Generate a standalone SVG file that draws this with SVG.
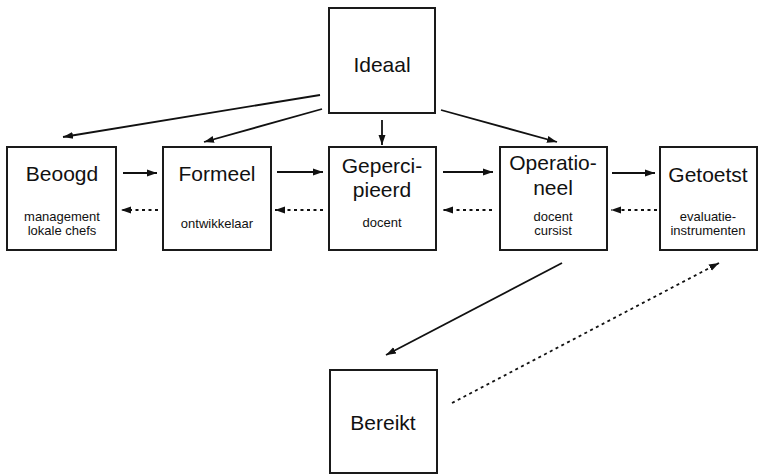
<svg xmlns="http://www.w3.org/2000/svg" width="759" height="475" viewBox="0 0 759 475">
<style>
.box{fill:#fff;stroke:#1a1a1a;stroke-width:2}
.t{font-family:"Liberation Sans",Arial,sans-serif;font-size:21px;fill:#111;text-anchor:middle}
.s{font-family:"Liberation Sans",Arial,sans-serif;font-size:13px;fill:#111;text-anchor:middle}
.c{stroke:#111;stroke-width:1.8;fill:none}
.d{stroke-dasharray:3,3.5}
</style>
<defs>
<marker id="ah" viewBox="0 0 10 10" refX="10" refY="5" markerWidth="10" markerHeight="10" markerUnits="userSpaceOnUse" orient="auto">
<path d="M0,1.5 L10,5 L0,8.5 Z" fill="#111"/>
</marker>
</defs>
<g id="ideaal"><rect class="box" x="329" y="8" width="106" height="105"/><text class="t" x="382" y="72">Ideaal</text></g>
<g id="beoogd"><rect class="box" x="7" y="147" width="109" height="103"/><text class="t" x="62" y="181">Beoogd</text><text class="s" x="62" y="221">management</text><text class="s" x="62" y="235">lokale chefs</text></g>
<g id="formeel"><rect class="box" x="163" y="147" width="108" height="103"/><text class="t" x="217" y="181">Formeel</text><text class="s" x="217" y="228">ontwikkelaar</text></g>
<g id="gepercipieerd"><rect class="box" x="329" y="147" width="107" height="103"/><text class="t" x="382" y="173">Geperci-</text><text class="t" x="382" y="197">pieerd</text><text class="s" x="382" y="227">docent</text></g>
<g id="operationeel"><rect class="box" x="500" y="147" width="107" height="103"/><text class="t" x="553" y="170">Operatio-</text><text class="t" x="553" y="195">neel</text><text class="s" x="553" y="221">docent</text><text class="s" x="553" y="235">cursist</text></g>
<g id="getoetst"><rect class="box" x="660" y="147" width="97" height="103"/><text class="t" x="708" y="182">Getoetst</text><text class="s" x="708" y="221">evaluatie-</text><text class="s" x="708" y="235">instrumenten</text></g>
<g id="bereikt"><rect class="box" x="330" y="370" width="107" height="103"/><text class="t" x="383" y="430">Bereikt</text></g>
<g id="connectors">
<line class="c" x1="320" y1="95" x2="63" y2="137" marker-end="url(#ah)"/>
<line class="c" x1="322" y1="109" x2="204" y2="142" marker-end="url(#ah)"/>
<line class="c" x1="382" y1="120" x2="382" y2="145" marker-end="url(#ah)"/>
<line class="c" x1="441" y1="110" x2="557" y2="142" marker-end="url(#ah)"/>
<line class="c" x1="123" y1="173" x2="157" y2="173" marker-end="url(#ah)"/>
<line class="c" x1="277" y1="172" x2="323" y2="172" marker-end="url(#ah)"/>
<line class="c" x1="443" y1="172" x2="493" y2="172" marker-end="url(#ah)"/>
<line class="c" x1="612" y1="173" x2="655" y2="173" marker-end="url(#ah)"/>
<line class="c d" x1="158" y1="210" x2="121" y2="210" marker-end="url(#ah)"/>
<line class="c d" x1="323" y1="210" x2="275" y2="210" marker-end="url(#ah)"/>
<line class="c d" x1="492" y1="210" x2="443" y2="210" marker-end="url(#ah)"/>
<line class="c d" x1="657" y1="210" x2="611" y2="210" marker-end="url(#ah)"/>
<line class="c" x1="562" y1="263" x2="386" y2="355" marker-end="url(#ah)"/>
<line class="c d" x1="452" y1="403" x2="719" y2="263" marker-end="url(#ah)"/>
</g>
</svg>
